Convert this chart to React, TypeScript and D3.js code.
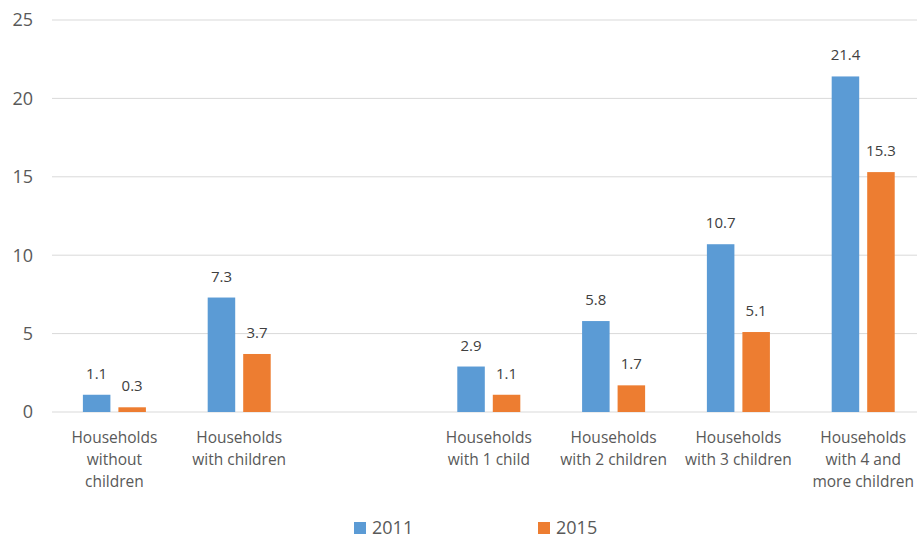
import React from "react";
import * as d3 from "d3";

const categories: string[][] = [
  ["Households", "without", "children"],
  ["Households", "with children"],
  [],
  ["Households", "with 1 child"],
  ["Households", "with 2 children"],
  ["Households", "with 3 children"],
  ["Households", "with 4 and", "more children"],
];
const categoryKeys = ["c0", "c1", "gap", "c3", "c4", "c5", "c6"];
const series = ["2011", "2015"];
const values2011: (number | null)[] = [1.1, 7.3, null, 2.9, 5.8, 10.7, 21.4];
const values2015: (number | null)[] = [0.3, 3.7, null, 1.1, 1.7, 5.1, 15.3];
const yTicks = [0, 5, 10, 15, 20, 25];
const colors = ["#5B9BD5", "#ED7D31"];

const W = 917;
const H = 539;
const FONT = "'Open Sans', 'Noto Sans', sans-serif";

export default function App() {
  const y = d3.scaleLinear().domain([0, 25]).range([412, 20]);
  const x0 = d3
    .scaleBand<string>()
    .domain(categoryKeys)
    .range([52, 925.6])
    .paddingInner(0.495)
    .paddingOuter(0.2475);
  const x1 = d3
    .scaleBand<string>()
    .domain(series)
    .range([0, x0.bandwidth()])
    .paddingInner(0.225);
  const allValues = [values2011, values2015];

  return (
    <svg
      width={W}
      height={H}
      style={{ position: "absolute", left: 0, top: 0, background: "#fff" }}
      fontFamily={FONT}
    >
      {yTicks.map((t) => (
        <g key={t}>
          <line x1={52} x2={W} y1={y(t)} y2={y(t)} stroke="#D9D9D9" strokeWidth={1} />
          <text
            x={33}
            y={y(t)}
            dy="0.35em"
            textAnchor="end"
            fontSize={18}
            fill="#595959"
          >
            {t}
          </text>
        </g>
      ))}
      {categoryKeys.map((k, i) => (
        <g key={k} transform={`translate(${x0(k)},0)`}>
          {series.map((s, j) => {
            const v = allValues[j][i];
            if (v == null) return null;
            const bx = x1(s)!;
            return (
              <g key={s}>
                <rect
                  x={bx}
                  y={y(v)}
                  width={x1.bandwidth()}
                  height={y(0) - y(v)}
                  fill={colors[j]}
                />
                <text
                  x={bx + x1.bandwidth() / 2}
                  y={y(v) - 16}
                  textAnchor="middle"
                  fontSize={15}
                  fill="#404040"
                >
                  {v.toFixed(1)}
                </text>
              </g>
            );
          })}
          {categories[i].map((line, li) => (
            <text
              key={li}
              x={x0.bandwidth() / 2}
              y={443 + li * 22}
              textAnchor="middle"
              fontSize={15.5}
              fill="#595959"
            >
              {line}
            </text>
          ))}
        </g>
      ))}
      {series.map((s, j) => {
        const lx = j === 0 ? 354 : 538;
        return (
          <g key={s}>
            <rect x={lx} y={522} width={12} height={12} fill={colors[j]} />
            <text x={lx + 18} y={533.5} fontSize={18} fill="#595959">
              {s}
            </text>
          </g>
        );
      })}
    </svg>
  );
}
